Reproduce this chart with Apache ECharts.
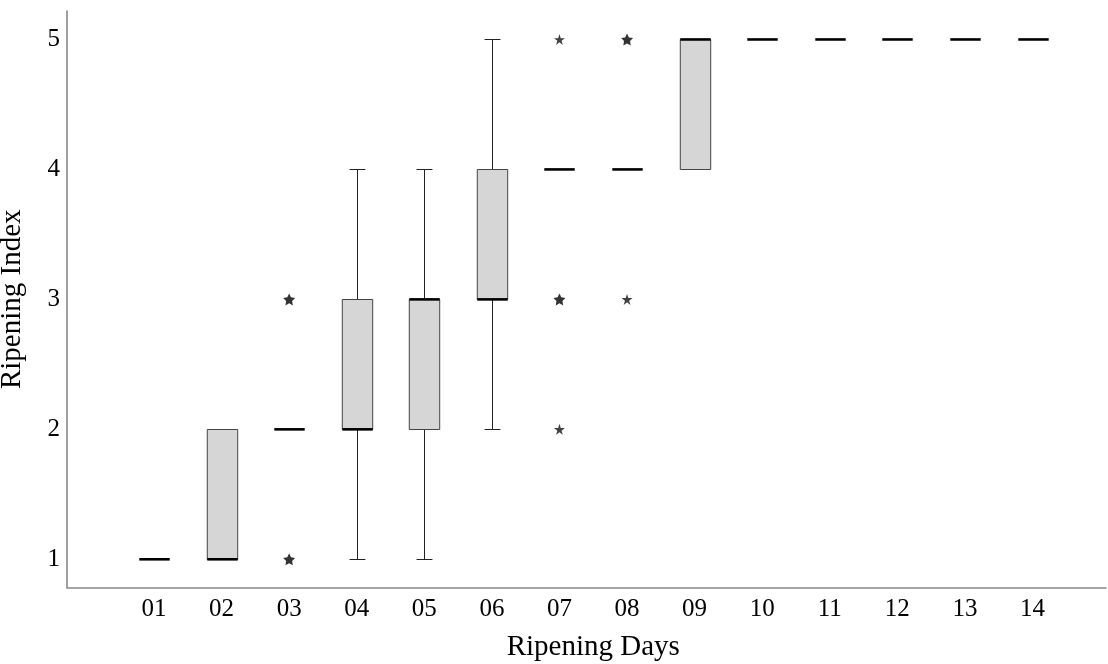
<!DOCTYPE html>
<html>
<head>
<meta charset="utf-8">
<script src="https://cdn.jsdelivr.net/npm/echarts@6/dist/echarts.min.js"></script>
<style>
html,body{margin:0;padding:0;background:#fff;}
#chart{width:1108px;height:664px;}
</style>
</head>
<body>
<div id="chart"></div>
<script>
// ---- data ----
const categories = ['01','02','03','04','05','06','07','08','09','10','11','12','13','14'];
const whiskerLow  = [1,1,2,1,1,2,4,4,4,5,5,5,5,5];
const quartile1   = [1,1,2,2,2,3,4,4,4,5,5,5,5,5];
const medianVals  = [1,1,2,2,3,3,4,4,5,5,5,5,5,5];
const quartile3   = [1,2,2,3,3,4,4,4,5,5,5,5,5,5];
const whiskerHigh = [1,2,2,4,4,5,4,4,5,5,5,5,5,5];
const extremeBold = [['03',3],['03',1],['07',3],['08',5]];
const extremeThin = [['07',5],['07',2],['08',3]];
const yTicks = [1,2,3,4,5];

const FONT = "'Liberation Serif','Times New Roman',serif";
const Y_MIN = 0.783, Y_MAX = 5.219;

function starPath(inner){
  let pts = [];
  for (let k=0;k<10;k++){
    const r = (k%2===0)?50:50*inner;
    const a = -Math.PI/2 + k*Math.PI/5;
    pts.push((50+r*Math.cos(a)).toFixed(2)+','+(50+r*Math.sin(a)).toFixed(2));
  }
  return 'path://M'+pts.join('L')+'Z';
}

const boxData = categories.map((c,i)=>[i, whiskerLow[i], quartile1[i], medianVals[i], quartile3[i], whiskerHigh[i]]);

function renderBox(params, api){
  const xi = api.value(0);
  const lo = api.value(1), q1 = api.value(2), md = api.value(3), q3 = api.value(4), hi = api.value(5);
  const band = api.size([1,0])[0];
  const bw = band*0.45, cw = band*0.235;
  const cx = Math.round(api.coord([xi, md])[0]) + 0.5;
  const Y = v => Math.round(api.coord([xi, v])[1]) + 0.5;
  const ch = [];
  const wStyle = {stroke:'#222', lineWidth:1};
  if (hi > q3){
    ch.push({type:'line', shape:{x1:cx,y1:Y(q3),x2:cx,y2:Y(hi)}, style:wStyle});
    ch.push({type:'line', shape:{x1:cx-cw/2,y1:Y(hi),x2:cx+cw/2,y2:Y(hi)}, style:wStyle});
  }
  if (lo < q1){
    ch.push({type:'line', shape:{x1:cx,y1:Y(lo),x2:cx,y2:Y(q1)}, style:wStyle});
    ch.push({type:'line', shape:{x1:cx-cw/2,y1:Y(lo),x2:cx+cw/2,y2:Y(lo)}, style:wStyle});
  }
  if (q3 > q1){
    const yt = Y(q3), yb = Y(q1);
    ch.push({type:'rect', shape:{x:cx-bw/2, y:yt, width:bw, height:yb-yt},
      style:{fill:'#d6d6d6', stroke:'#444', lineWidth:1}});
  }
  const ym = api.coord([xi, md])[1];
  ch.push({type:'line', shape:{x1:cx-bw/2,y1:ym,x2:cx+bw/2,y2:ym}, style:{stroke:'#000', lineWidth:2.6}});
  return {type:'group', children:ch};
}

const chart = echarts.init(document.getElementById('chart'));
chart.setOption({
  animation:false,
  backgroundColor:'#fff',
  grid:[
    {left:67, right:2, top:11, bottom:76.5, outerBoundsMode:'none', containLabel:false},
    {left:120.2, right:41.7, top:11, bottom:76.5, outerBoundsMode:'none', containLabel:false}
  ],
  xAxis:[
    {gridIndex:0, type:'value', min:0, max:1,
     axisLine:{show:true, lineStyle:{color:'#888', width:1.6}},
     axisTick:{show:false}, axisLabel:{show:false}, splitLine:{show:false}},
    {gridIndex:1, type:'category', data:categories, boundaryGap:true,
     axisLine:{show:false}, axisTick:{show:false}, splitLine:{show:false},
     axisLabel:{show:true, color:'#000', fontFamily:FONT, fontSize:25, margin:9},
     name:'Ripening Days', nameLocation:'middle', nameGap:45,
     nameTextStyle:{color:'#000', fontFamily:FONT, fontSize:29}}
  ],
  yAxis:[
    {gridIndex:0, type:'value', min:Y_MIN, max:Y_MAX,
     axisLine:{show:true, lineStyle:{color:'#888', width:1.6}},
     axisTick:{show:false}, splitLine:{show:false},
     axisLabel:{show:true, customValues:yTicks, color:'#000', fontFamily:FONT, fontSize:25, margin:7,
       showMinLabel:true, showMaxLabel:true},
     name:'Ripening Index', nameLocation:'middle', nameGap:40, nameRotate:90,
     nameTextStyle:{color:'#000', fontFamily:FONT, fontSize:29}},
    {gridIndex:1, type:'value', min:Y_MIN, max:Y_MAX, show:false}
  ],
  series:[
    {type:'custom', xAxisIndex:1, yAxisIndex:1, data:boxData, renderItem:renderBox,
     encode:{x:0, y:[1,2,3,4,5]}, z:2},
    {type:'scatter', xAxisIndex:1, yAxisIndex:1, data:extremeBold,
     symbol:starPath(0.5), symbolSize:12, itemStyle:{color:'#000'}, z:3},
    {type:'scatter', xAxisIndex:1, yAxisIndex:1, data:extremeThin,
     symbol:starPath(0.38), symbolSize:11, itemStyle:{color:'#111'}, z:3}
  ]
});
</script>
</body>
</html>
